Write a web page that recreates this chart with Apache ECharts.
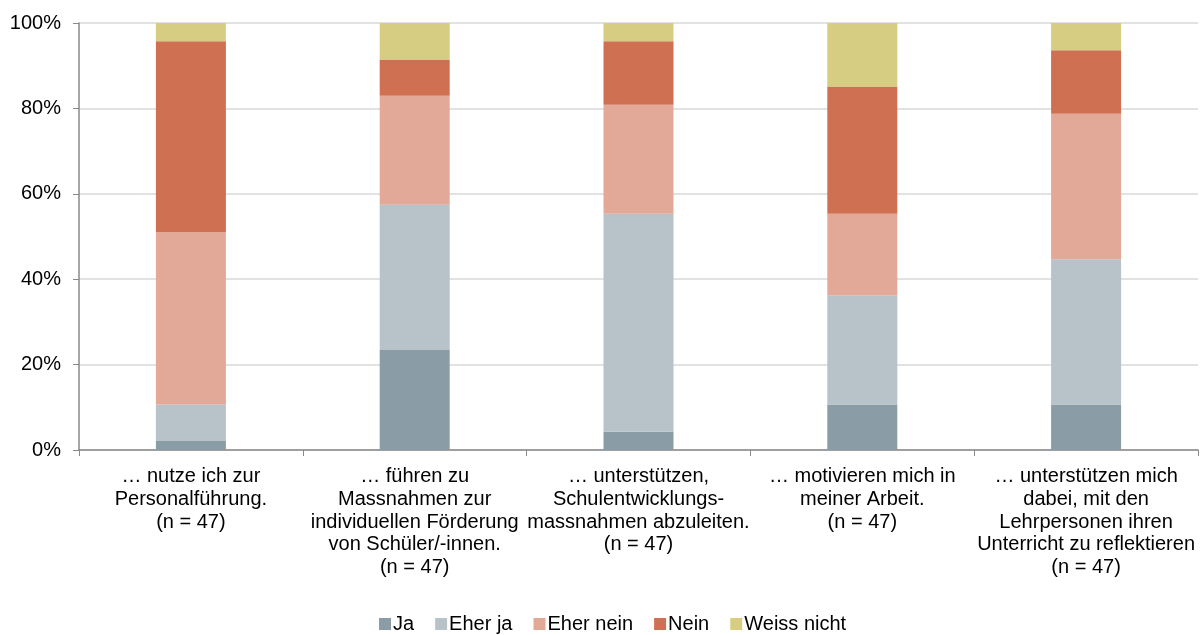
<!DOCTYPE html>
<html>
<head>
<meta charset="utf-8">
<script src="https://cdn.jsdelivr.net/npm/echarts@6/dist/echarts.min.js"></script>
<style>html,body{margin:0;padding:0;background:#fff;}#c{width:1204px;height:635px;}</style>
</head>
<body>
<div id="c"></div>
<script>
const categories = [
  "… nutze ich zur\nPersonalführung.\n(n = 47)",
  "… führen zu\nMassnahmen zur\nindividuellen Förderung\nvon Schüler/-innen.\n(n = 47)",
  "… unterstützen,\nSchulentwicklungs-\nmassnahmen abzuleiten.\n(n = 47)",
  "… motivieren mich in\nmeiner Arbeit.\n(n = 47)",
  "… unterstützen mich\ndabei, mit den\nLehrpersonen ihren\nUnterricht zu reflektieren\n(n = 47)"
];
const seriesNames = ["Ja", "Eher ja", "Eher nein", "Nein", "Weiss nicht"];
const ja       = [2.13, 23.40, 4.26, 10.64, 10.64];
const eherJa   = [8.51, 34.04, 51.06, 25.53, 34.04];
const eherNein = [40.43, 25.53, 25.53, 19.15, 34.04];
const nein     = [44.68, 8.51, 14.89, 29.79, 14.89];
const weiss    = [4.26, 8.51, 4.26, 14.89, 6.38];
const yTicks = [0, 20, 40, 60, 80, 100];
const colors = ["#8a9ca6", "#b7c3c8", "#e2a898", "#cf7052", "#d6cd82"];
const allData = [ja, eherJa, eherNein, nein, weiss];

const chart = echarts.init(document.getElementById('c'));
const font = "Liberation Sans, Arial, sans-serif";
chart.setOption({
  animation: false,
  textStyle: { fontFamily: font },
  grid: { left: 79, right: 6, top: 23, bottom: 185, containLabel: false },
  legend: {
    top: 609, left: 374,
    itemWidth: 12, itemHeight: 12, itemGap: 21,
    icon: 'rect',
    textStyle: { fontSize: 20, color: '#000', fontFamily: font, padding: [0, 0, 0, -3] },
    data: seriesNames
  },
  xAxis: {
    type: 'category',
    data: categories,
    axisLine: { lineStyle: { color: '#898989', width: 1.5 } },
    axisTick: { show: true, length: 6, lineStyle: { color: '#898989' } },
    axisLabel: { interval: 0, fontSize: 20, color: '#000', lineHeight: 22.8, margin: 15, fontFamily: font }
  },
  yAxis: {
    type: 'value', min: 0, max: 100, interval: 20,
    axisLine: { show: true, lineStyle: { color: '#898989', width: 1.5 } },
    axisTick: { show: true, length: 6, lineStyle: { color: '#898989' } },
    splitLine: { lineStyle: { color: '#d9d9d9', width: 1.5 } },
    axisLabel: { fontSize: 20, color: '#000', margin: 18, fontFamily: font,
      formatter: v => yTicks.includes(v) ? v + '%' : '' }
  },
  series: seriesNames.map((n, i) => ({
    name: n, type: 'bar', stack: 'total', barWidth: 70,
    itemStyle: { color: colors[i] },
    data: allData[i]
  }))
});
</script>
</body>
</html>
